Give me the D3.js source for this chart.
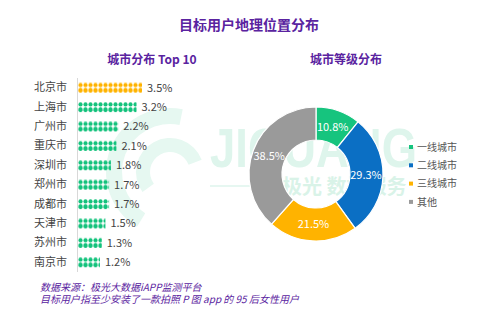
<!DOCTYPE html>
<html><head><meta charset="utf-8">
<script src="https://cdn.jsdelivr.net/npm/d3@7"></script>
<style>
html,body{margin:0;padding:0;background:#fff;}
svg{display:block;font-family:"Noto Sans CJK SC","Noto Sans",sans-serif;}
</style></head>
<body>
<svg id="c" width="500" height="321"></svg>
<script>
const cities = ["北京市","上海市","广州市","重庆市","深圳市","郑州市","成都市","天津市","苏州市","南京市"];
const cityValues = [3.5,3.2,2.2,2.1,1.8,1.7,1.7,1.5,1.3,1.2];
const tiers = ["一线城市","二线城市","三线城市","其他"];
const tierValues = [10.8,29.3,21.5,38.5];
const tierColors = ["#16c47e","#0b6fc4","#ffb300","#9a9a9a"];

const svg = d3.select("#c");
const purple = "#5a23a0";

// watermark
const wm = svg.append("g");
wm.append("path")
  .attr("d", d3.arc().innerRadius(48).outerRadius(64).startAngle(-2.6).endAngle(0.2)())
  .attr("transform","translate(170,172)").attr("fill","#e6f8f1");
wm.append("path")
  .attr("d", d3.arc().innerRadius(20).outerRadius(34).startAngle(-2.2).endAngle(1.2)())
  .attr("transform","translate(170,172)").attr("fill","#e6f8f1");
wm.append("text").attr("x",210).attr("y",167).text("JIGUANG")
  .attr("font-family","Liberation Sans, sans-serif").attr("font-weight","bold")
  .attr("font-size",55).attr("textLength",207).attr("lengthAdjust","spacingAndGlyphs")
  .attr("fill","#def5ec");
wm.append("line").attr("x1",210).attr("x2",276).attr("y1",186).attr("y2",186)
  .attr("stroke","#def5ec").attr("stroke-width",1.5);
wm.append("text").attr("x",282).attr("y",194).text("极光 数据服务")
  .attr("font-weight","bold").attr("font-size",20).attr("fill","#d9f3e8");

// titles
svg.append("text").attr("x",249).attr("y",30).attr("text-anchor","middle")
  .attr("font-size",14).attr("font-weight","bold").attr("fill",purple).text("目标用户地理位置分布");
svg.append("text").attr("x",152).attr("y",64).attr("text-anchor","middle")
  .attr("font-size",12).attr("font-weight","bold").attr("fill",purple).text("城市分布 Top 10");
svg.append("text").attr("x",346).attr("y",64).attr("text-anchor","middle")
  .attr("font-size",12).attr("font-weight","bold").attr("fill",purple).text("城市等级分布");

// pictorial bars
const defs = svg.append("defs");
function mkPattern(id, color){
  const p = defs.append("pattern").attr("id",id).attr("patternUnits","userSpaceOnUse")
    .attr("width",5).attr("height",10).attr("x",78);
  p.append("circle").attr("cx",2.5).attr("cy",2.4).attr("r",2.1).attr("fill",color);
  p.append("rect").attr("x",0.4).attr("y",5.2).attr("width",4.2).attr("height",4.8).attr("rx",1.8).attr("fill",color);
  return p;
}
const y = d3.scaleBand().domain(cities).range([78,272]).paddingInner(0.48).paddingOuter(0.24);
const x = d3.scaleLinear().domain([0,3.5]).range([78,142]);

const gBars = svg.append("g");
gBars.append("line").attr("x1",77.5).attr("x2",77.5).attr("y1",78).attr("y2",272)
  .attr("stroke","#d8d8d8").attr("stroke-width",1);

cities.forEach((c,i)=>{
  const color = i===0 ? "#ffb300" : "#13c27c";
  const pid = "pat"+i;
  const p = mkPattern(pid,color);
  p.attr("y", y(c));
  gBars.append("rect").attr("x",x(0)).attr("y",y(c)).attr("width",x(cityValues[i])-x(0))
    .attr("height",y.bandwidth()).attr("fill","url(#"+pid+")");
  gBars.append("text").attr("x",x(cityValues[i])+5).attr("y",y(c)+y.bandwidth()/2).attr("dy","0.36em")
    .attr("font-size",11).attr("fill","#444").text(cityValues[i].toFixed(1)+"%");
});
const yAxis = d3.axisLeft(y).tickSize(0).tickPadding(10);
const ga = svg.append("g").attr("transform","translate(77,0)").call(yAxis);
ga.select(".domain").remove();
ga.selectAll("text").attr("font-size",11).attr("fill","#444")
  .attr("font-family","Noto Sans CJK SC, sans-serif");

// donut
const cx = 316, cy = 174;
const pie = d3.pie().sort(null).value(d=>d)(tierValues);
const arc = d3.arc().innerRadius(34).outerRadius(67);
const labelArc = d3.arc().innerRadius(50).outerRadius(50);
const gD = svg.append("g").attr("transform",`translate(${cx},${cy})`);
gD.selectAll("path").data(pie).join("path")
  .attr("d",arc).attr("fill",(d,i)=>tierColors[i]).attr("stroke","#fff").attr("stroke-width",1.2);
gD.selectAll("text").data(pie).join("text")
  .attr("transform",d=>`translate(${labelArc.centroid(d)})`)
  .attr("text-anchor","middle").attr("dy","0.36em")
  .attr("font-size",11).attr("fill","#fff").text((d,i)=>tierValues[i].toFixed(1)+"%");

// legend
const lg = svg.append("g");
tiers.forEach((t,i)=>{
  const yy = 147 + i*18.3;
  lg.append("rect").attr("x",409).attr("y",yy-2).attr("width",4).attr("height",4).attr("fill",tierColors[i]);
  lg.append("text").attr("x",417).attr("y",yy).attr("dy","0.36em")
    .attr("font-size",10).attr("fill","#555").text(t);
});

// footer
svg.append("text").attr("x",40).attr("y",291).attr("font-size",10).attr("font-style","italic")
  .attr("fill",purple).text("数据来源：极光大数据iAPP监测平台");
svg.append("text").attr("x",40).attr("y",303).attr("font-size",10).attr("font-style","italic")
  .attr("fill",purple).text("目标用户指至少安装了一款拍照 P 图 app 的 95 后女性用户");
</script>
</body></html>
